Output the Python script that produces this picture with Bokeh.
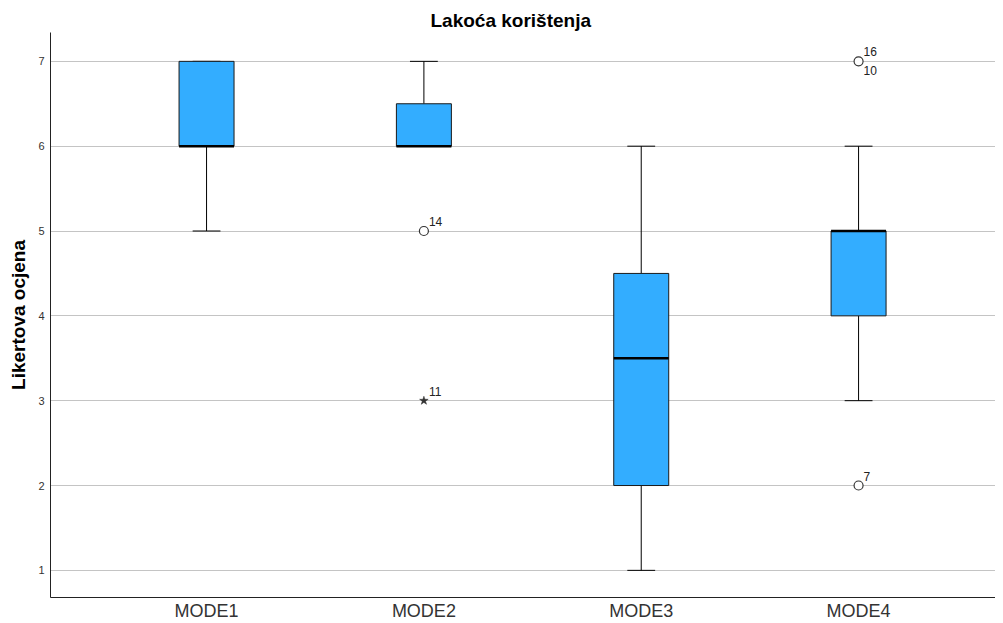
from bokeh.plotting import figure
from bokeh.models import ColumnDataSource, Range1d, FixedTicker
from bokeh.core.properties import value
from bokeh.embed import file_html
from bokeh.resources import INLINE

# ---- data ----
categories = ["MODE1", "MODE2", "MODE3", "MODE4"]
q1 = [6.0, 6.0, 2.0, 4.0]
median = [6.0, 6.0, 3.5, 5.0]
q3 = [7.0, 6.5, 4.5, 5.0]
whisker_low = [5.0, 6.0, 1.0, 3.0]
whisker_high = [7.0, 7.0, 6.0, 6.0]

outlier_cat = ["MODE2", "MODE2", "MODE4", "MODE4"]
outlier_val = [5.0, 3.0, 7.0, 2.0]
outlier_kind = ["circle", "star", "circle", "circle"]
label_cat = ["MODE2", "MODE2", "MODE4", "MODE4", "MODE4"]
label_val = [5.0, 3.0, 7.0, 7.0, 2.0]
label_text = ["14", "11", "16", "10", "7"]
label_pos = ["above", "above", "above", "below", "above"]

y_ticks = [1, 2, 3, 4, 5, 6, 7]

FONT = "Liberation Sans"
BOX_W = 0.253
CAP_W = 0.128

xpos = {c: i + 1 for i, c in enumerate(categories)}
xs = [xpos[c] for c in categories]

p = figure(frame_width=945, frame_height=565, output_backend="svg", toolbar_location=None,
           x_range=Range1d(0.282, 4.630), y_range=Range1d(0.68, 7.34),
           min_border_left=50, min_border_right=0, min_border_bottom=0, min_border_top=32)

p.title.text = "Lakoća korištenja"
p.title.text_font = FONT
p.title.text_font_size = "19px"
p.title.text_font_style = "bold"
p.title.text_color = "black"
p.title.align = "left"
p.title.offset = 380
p.title.standoff = 4

box_src = ColumnDataSource(dict(x=xs, q1=q1, q3=q3, med=median, lo=whisker_low, hi=whisker_high,
                                xl=[x - BOX_W / 2 for x in xs], xr=[x + BOX_W / 2 for x in xs],
                                cl=[x - CAP_W / 2 for x in xs], cr=[x + CAP_W / 2 for x in xs]))

# whiskers
p.segment(x0="x", y0="q3", x1="x", y1="hi", source=box_src, line_color="black", line_width=1)
p.segment(x0="x", y0="q1", x1="x", y1="lo", source=box_src, line_color="black", line_width=1)
p.segment(x0="cl", y0="hi", x1="cr", y1="hi", source=box_src, line_color="black", line_width=1)
p.segment(x0="cl", y0="lo", x1="cr", y1="lo", source=box_src, line_color="black", line_width=1)

# boxes
p.vbar(x="x", bottom="q1", top="q3", width=BOX_W, source=box_src,
       fill_color="#33adff", line_color="#1a1a1a", line_width=1)
# medians
p.segment(x0="xl", y0="med", x1="xr", y1="med", source=box_src, line_color="black", line_width=2.5)

# outliers
for c, v, k in zip(outlier_cat, outlier_val, outlier_kind):
    if k == "circle":
        p.scatter([xpos[c]], [v], marker="circle", size=9, fill_color="white",
                  line_color="#333333", line_width=1.2)
    else:
        p.scatter([xpos[c]], [v], marker="star", size=9, fill_color="#333333",
                  line_color="#333333", line_width=0.5)

for c, v, t, pos in zip(label_cat, label_val, label_text, label_pos):
    p.text([xpos[c]], [v], text=[t], x_offset=5,
           y_offset=-5 if pos == "above" else 5,
           text_baseline="bottom" if pos == "above" else "top",
           text_font=value(FONT), text_font_size="12px", text_color="#222222")

# axes
p.xaxis.ticker = FixedTicker(ticks=xs)
p.xaxis.major_label_overrides = {x: c for x, c in zip(xs, categories)}
p.xaxis.major_label_text_font = FONT
p.xaxis.major_label_text_font_size = "18px"
p.xaxis.major_label_text_color = "#333333"
p.xaxis.major_label_standoff = 3
p.xaxis.major_tick_out = 0
p.xaxis.major_tick_in = 0
p.xaxis.minor_tick_out = 0
p.xaxis.minor_tick_in = 0
p.xaxis.major_tick_line_color = None
p.xaxis.minor_tick_line_color = None
p.xaxis.axis_line_color = "#222222"

p.yaxis.ticker = FixedTicker(ticks=y_ticks)
p.yaxis.major_label_text_font = FONT
p.yaxis.major_label_text_font_size = "11px"
p.yaxis.major_label_text_color = "#333333"
p.yaxis.major_label_standoff = 6
p.yaxis.major_tick_out = 0
p.yaxis.major_tick_in = 0
p.yaxis.minor_tick_out = 0
p.yaxis.minor_tick_in = 0
p.yaxis.major_tick_line_color = None
p.yaxis.minor_tick_line_color = None
p.yaxis.axis_line_color = "#222222"
p.yaxis.axis_label = "Likertova ocjena"
p.yaxis.axis_label_text_font = FONT
p.yaxis.axis_label_text_font_size = "19px"
p.yaxis.axis_label_text_font_style = "bold"
p.yaxis.axis_label_text_color = "black"
p.yaxis.axis_label_standoff = 6

p.xgrid.grid_line_color = None
p.ygrid.grid_line_color = "#c4c4c4"
p.ygrid.grid_line_width = 1
p.outline_line_color = None
p.background_fill_color = "white"
p.border_fill_color = "white"

open("out.html", "w").write(file_html(p, INLINE))
